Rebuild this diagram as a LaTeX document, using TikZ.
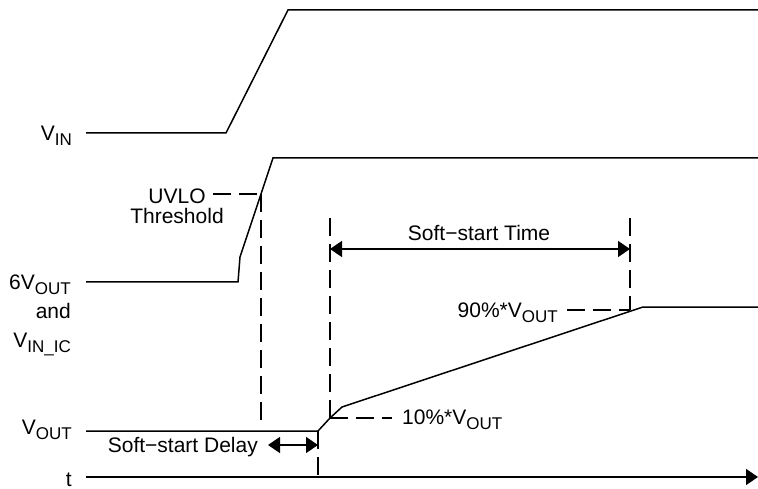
\documentclass[tikz,border=0pt]{standalone}
\usepackage{fontspec}
\setmainfont{Liberation Sans}
\usetikzlibrary{arrows.meta}
\newcommand{\lowtxt}[1]{\raisebox{-5pt}{\fontsize{17}{17}\selectfont #1}}

\begin{document}
\begin{tikzpicture}[x=1pt,y=-1pt,
    wave/.style={line width=1.5pt},
    guide/.style={line width=1.5pt, dash pattern=on 18pt off 8pt},
    dim/.style={line width=1.5pt, {Triangle[length=12pt,width=16pt]}-{Triangle[length=12pt,width=16pt]}},
    lbl/.style={font=\fontsize{21}{24}\selectfont, inner sep=0pt}]
    \useasboundingbox (0,0) rectangle (758,489);

    % signal names
    \node[lbl, anchor=base east] at (72,141) (vin) {V\lowtxt{IN}};
    \node[lbl, anchor=base east] at (71,290) (vsix) {6V\lowtxt{OUT}};
    \node[lbl, anchor=base east] at (71,318) (vand) {and};
    \node[lbl, anchor=base east] at (71,347) (vic) {V\lowtxt{IN\_IC}};
    \node[lbl, anchor=base east] at (72,434) (vout) {V\lowtxt{OUT}};
    \node[lbl, anchor=base east] at (72,486) (tlbl) {t};

    % waveforms
    \draw[wave] (86,133) -- (226,133) -- (288,10) -- (758,10);
    \draw[wave] (86,282) -- (238,282) -- (240,257) -- (273,158) -- (758,158);
    \draw[wave] (86,431) -- (318,431) -- (330,418) -- (342,407) -- (643,307) -- (758,307);
    \draw[wave, -{Triangle[length=12pt,width=16pt]}] (86,477) -- (758,477);

    % UVLO
    \coordinate (uvlo) at (261,194);
    \node[lbl, anchor=base] at (177,204) (uv1) {UVLO};
    \node[lbl, anchor=base] at (177,224) (uv2) {Threshold};
    \draw[guide] (213,194) -- (uvlo);
    \draw[guide] (uvlo) -- (261,427);

    % soft-start delay
    \coordinate (dly) at (318,431);
    \draw[guide] (dly) -- (318,476);
    \draw[dim] (268,445) -- (318,445);
    \node[lbl, anchor=base east] at (258,452) (dlbl) {Soft−start Delay};

    % soft-start time
    \coordinate (ten) at (330,418);
    \coordinate (ninety) at (630,310);
    \draw[guide] (330,218) -- (ten);
    \draw[guide] (ten) -- (392,418);
    \draw[guide] (630,218) -- (ninety);
    \draw[guide] (567,310) -- (ninety);
    \draw[dim] (330,249) -- (630,249);
    \node[lbl, anchor=base] at (479,241) (tlbl2) {Soft−start Time};
    \node[lbl, anchor=base west] at (402,424) (tenlbl) {10\%*V\lowtxt{OUT}};
    \node[lbl, anchor=base east] at (558,317) (ninlbl) {90\%*V\lowtxt{OUT}};
\end{tikzpicture}
\end{document}
